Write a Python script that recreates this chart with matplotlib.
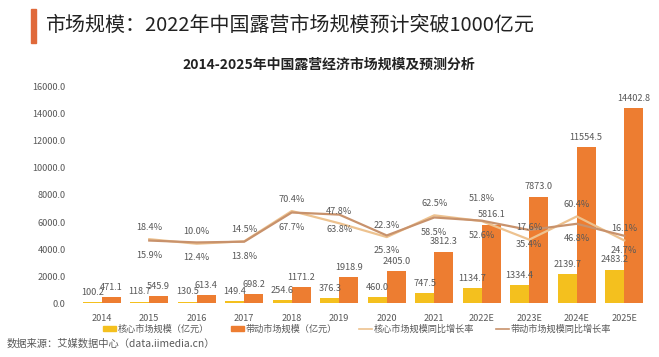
import matplotlib
matplotlib.use("Agg")
import matplotlib.pyplot as plt
from matplotlib.patches import Rectangle, Patch
from matplotlib.lines import Line2D

plt.rcParams['font.family'] = ['Noto Sans CJK SC', 'DejaVu Sans']

years = ['2014', '2015', '2016', '2017', '2018', '2019', '2020', '2021',
         '2022E', '2023E', '2024E', '2025E']
core_size = [100.2, 118.7, 130.5, 149.4, 254.6, 376.3, 460.0, 747.5,
             1134.7, 1334.4, 2139.7, 2483.2]
driven_size = [471.1, 545.9, 613.4, 698.2, 1171.2, 1918.9, 2405.0, 3812.3,
               5816.1, 7873.0, 11554.5, 14402.8]
# growth rates start in 2015
core_growth = [18.4, 10.0, 14.5, 70.4, 47.8, 22.3, 62.5, 51.8, 17.6, 60.4, 16.1]
driven_growth = [15.9, 12.4, 13.8, 67.7, 63.8, 25.3, 58.5, 52.6, 35.4, 46.8, 24.7]
yticks = [0, 2000, 4000, 6000, 8000, 10000, 12000, 14000, 16000]

C_CORE = '#F4C01E'
C_DRIVEN = '#ED7D31'
C_CORE_LINE = '#EDC28F'
C_DRIVEN_LINE = '#C8926C'
C_TEXT = '#595959'

fig = plt.figure(figsize=(6.59, 3.57), dpi=100)
fig.patch.set_facecolor('white')

ax = fig.add_axes([78/659, (357-303.3)/357, 570/659, 216.6/357])
x = list(range(len(years)))
w = 0.4
ax.bar([i - w/2 for i in x], core_size, width=w, color=C_CORE, zorder=2)
ax.bar([i + w/2 for i in x], driven_size, width=w, color=C_DRIVEN, zorder=2)
ax.set_xlim(-0.5, len(years) - 0.5)
ax.set_ylim(0, 16000)
ax.set_yticks(yticks)
ax.set_yticklabels([f'{v:.1f}' for v in yticks])
ax.set_xticks(x)
ax.set_xticklabels(years)
ax.tick_params(axis='both', length=0, labelsize=6.6, colors=C_TEXT)
ax.tick_params(axis='y', pad=9)
ax.tick_params(axis='x', pad=8)
for s in ax.spines.values():
    s.set_visible(False)

for i, v in enumerate(core_size):
    ax.annotate(f'{v:.1f}', (i - w/2, v), xytext=(0, 7), textcoords='offset points',
                ha='center', va='center', fontsize=6.6, color=C_TEXT, zorder=5)
for i, v in enumerate(driven_size):
    ax.annotate(f'{v:.1f}', (i + w/2, v), xytext=(0, 7), textcoords='offset points',
                ha='center', va='center', fontsize=6.6, color=C_TEXT, zorder=5)

ax2 = ax.twinx()
ax2.set_ylim(-100, 300)
ax2.axis('off')
gx = x[1:]
ax2.plot(gx, core_growth, color=C_CORE_LINE, lw=1.6, zorder=3)
ax2.plot(gx, driven_growth, color=C_DRIVEN_LINE, lw=1.6, zorder=3)
for i, v in zip(gx, core_growth):
    dy = 16.5 if years[i] == '2022E' else 8.6
    ax2.annotate(f'{v:.1f}%', (i, v), xytext=(0, dy), textcoords='offset points',
                 ha='center', va='center', fontsize=6.6, color=C_TEXT, zorder=5)
for i, v in zip(gx, driven_growth):
    ax2.annotate(f'{v:.1f}%', (i, v), xytext=(0, -10.8), textcoords='offset points',
                 ha='center', va='center', fontsize=6.6, color=C_TEXT, zorder=5)

# legend
handles = [Patch(color=C_CORE), Patch(color=C_DRIVEN),
           Line2D([], [], color=C_CORE_LINE, lw=1.2),
           Line2D([], [], color=C_DRIVEN_LINE, lw=1.2)]
labels = ['核心市场规模（亿元）', '带动市场规模（亿元）', '核心市场规模同比增长率', '带动市场规模同比增长率']
leg = fig.legend(handles, labels, ncol=4, loc='center', bbox_to_anchor=(357/659, (357-329)/357),
                 frameon=False, fontsize=6.6, handlelength=1.4, handleheight=0.6,
                 handletextpad=0.2, columnspacing=2.4, labelcolor=C_TEXT)

# titles
fig.patches.append(Rectangle((31/659, 1 - 43/357), 5/659, 34/357, transform=fig.transFigure,
                             color='#E0693A', zorder=3))
fig.text(46/659, 1 - 25/357, '市场规模：2022年中国露营市场规模预计突破1000亿元',
         fontsize=14.4, color='#222222', ha='left', va='center')
fig.text(328.5/659, 1 - 65/357, '2014-2025年中国露营经济市场规模及预测分析',
         fontsize=10, fontweight='bold', color='#222222', ha='center', va='center')
fig.text(7/659, 1 - 344/357, '数据来源：艾媒数据中心（data.iimedia.cn）',
         fontsize=7.4, color=C_TEXT, ha='left', va='center')

fig.savefig('out.png', dpi=100, facecolor='white')
